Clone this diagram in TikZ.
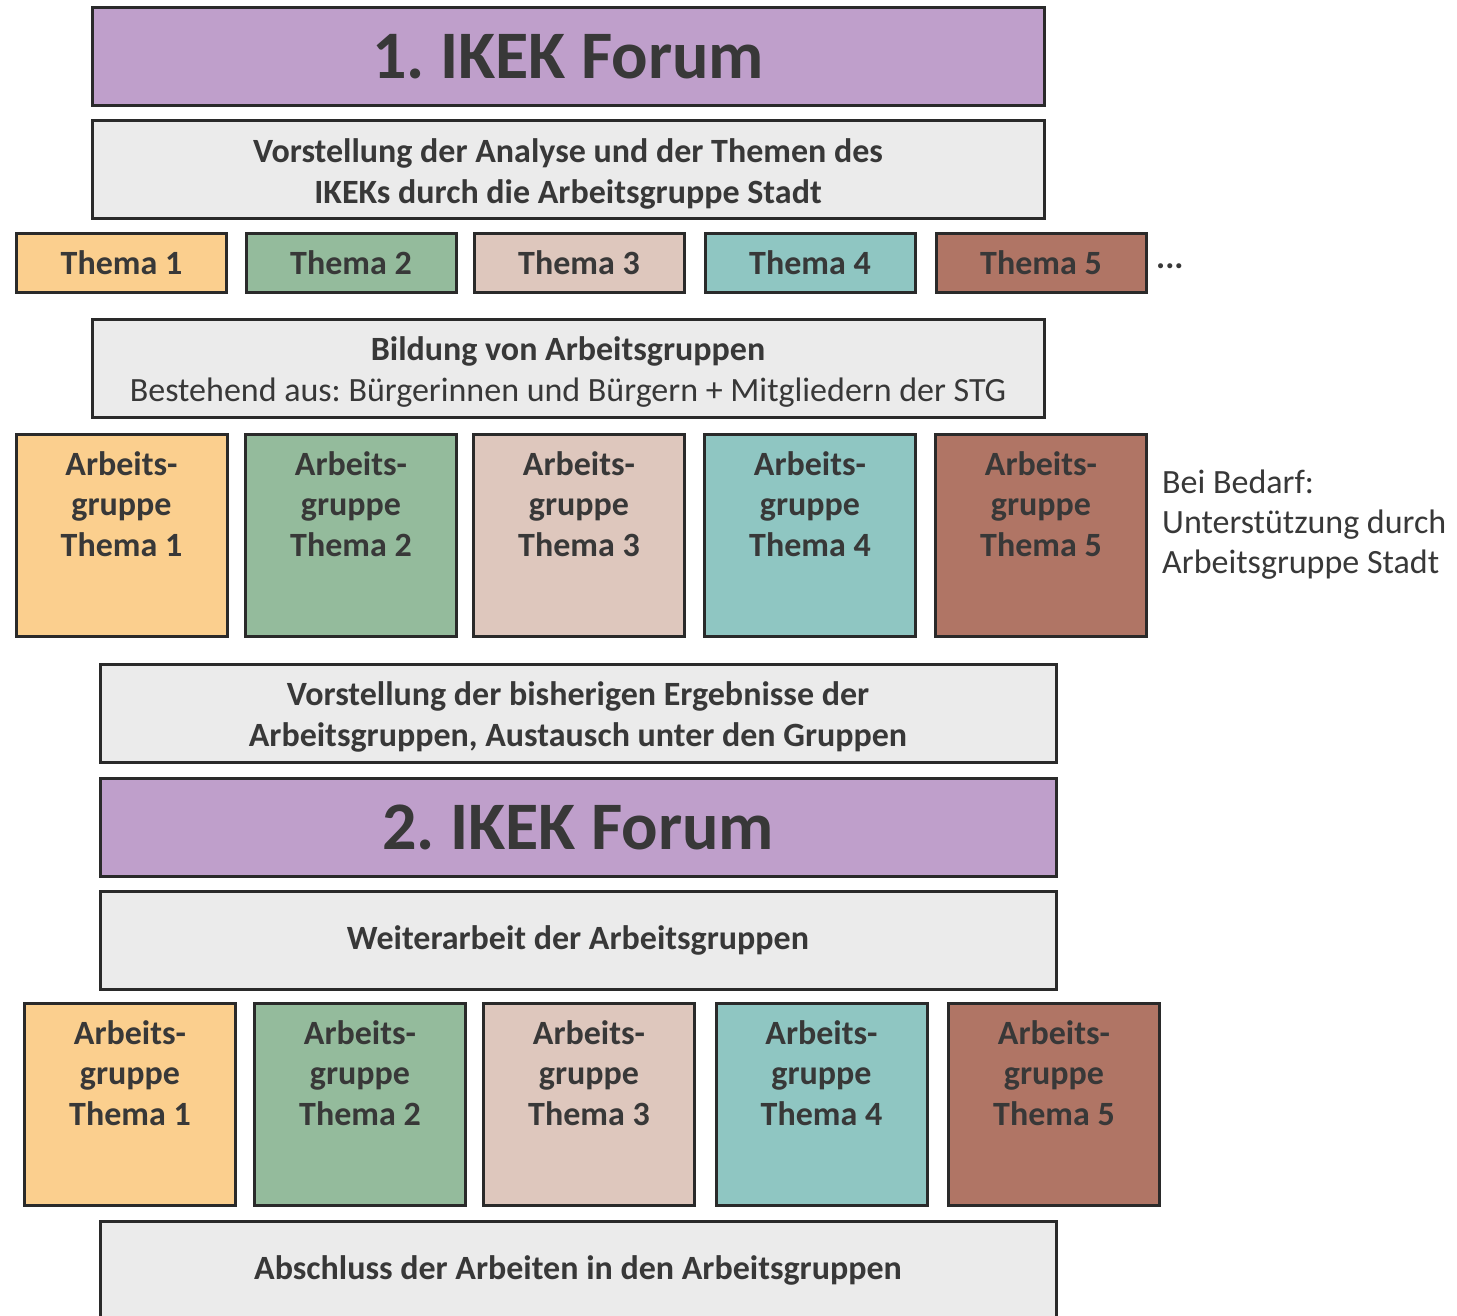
\documentclass[tikz,border=0pt]{standalone}
\usepackage{fontspec}
\setmainfont{Carlito}
\definecolor{purp}{HTML}{BF9FCB}
\definecolor{greyf}{HTML}{EBEBEB}
\definecolor{orng}{HTML}{FBCF8E}
\definecolor{grn}{HTML}{94BB9C}
\definecolor{pnk}{HTML}{DEC7BD}
\definecolor{teal2}{HTML}{8FC6C2}
\definecolor{brwn}{HTML}{B07565}
\definecolor{txt}{HTML}{383838}
\definecolor{edge}{HTML}{2A2A2A}
\tikzset{
  box/.style={draw=edge, line width=3pt, rectangle, inner sep=0pt, text=txt, align=center,
    font=\fontsize{34}{40}\selectfont\bfseries},
  bigtitle/.style={box, fill=purp, minimum width=952pt, minimum height=98pt,
    font=\fontsize{68}{80}\selectfont\bfseries},
  wide/.style={box, fill=greyf, minimum width=952pt, minimum height=98pt},
  wideb/.style={box, fill=greyf, minimum width=956pt, minimum height=98pt},
  thema/.style={box, minimum width=210pt, minimum height=58pt},
  agbox/.style={box, minimum width=211pt, minimum height=202pt},
  agtext/.style={text=txt, align=center, inner sep=0pt, font=\fontsize{34}{40.5}\selectfont\bfseries},
  note/.style={text=txt, align=left, inner sep=0pt, font=\fontsize{34}{40}\selectfont},
}
\frenchspacing
\begin{document}
\begin{tikzpicture}[x=1pt,y=-1pt]
\useasboundingbox (0,0) rectangle (1457,1316);
\fill[white] (0,0) rectangle (1457,1316);
% top section
\node[bigtitle] (f1) at (568,57) {1. IKEK Forum};
\node[wide] (v1) at (568,170) {};
\node[agtext] (v1t) at (568,174) {Vorstellung der Analyse und der Themen des\\IKEKs durch die Arbeitsgruppe Stadt};
\node[thema, fill=orng] (t1) at (121.5,263) {Thema 1};
\node[thema, fill=grn] (t2) at (351,263) {Thema 2};
\node[thema, fill=pnk] (t3) at (579,263) {Thema 3};
\node[thema, fill=teal2] (t4) at (810,263) {Thema 4};
\node[thema, fill=brwn] (t5) at (1041,263) {Thema 5};
\node[text=txt, inner sep=0pt, font=\fontsize{34}{40}\selectfont\bfseries, anchor=west] (dots) at (1156,266) {...};
\node[wide] (bild) at (568,368) {};
\node[agtext] (bildt) at (568,372) {Bildung von Arbeitsgruppen\\\mdseries Bestehend aus: Bürgerinnen und Bürgern + Mitgliedern der STG};
% AG row 1
\node[agbox, fill=orng] (a1) at (121.5,535) {};
\node[agbox, fill=grn] (a2) at (351,535) {};
\node[agbox, fill=pnk] (a3) at (579,535) {};
\node[agbox, fill=teal2] (a4) at (810,535) {};
\node[agbox, fill=brwn] (a5) at (1041,535) {};
\node[agtext] (a1t) at (121.5,504) {Arbeits-\\gruppe\\Thema 1};
\node[agtext] (a2t) at (351,504) {Arbeits-\\gruppe\\Thema 2};
\node[agtext] (a3t) at (579,504) {Arbeits-\\gruppe\\Thema 3};
\node[agtext] (a4t) at (810,504) {Arbeits-\\gruppe\\Thema 4};
\node[agtext] (a5t) at (1041,504) {Arbeits-\\gruppe\\Thema 5};
\node[note, anchor=west] (bedarf) at (1162,525) {Bei Bedarf:\\Unterstützung durch\\Arbeitsgruppe Stadt};
% middle
\node[wideb] (v2) at (578,713) {};
\node[agtext] (v2t) at (578,717) {Vorstellung der bisherigen Ergebnisse der\\Arbeitsgruppen, Austausch unter den Gruppen};
\node[bigtitle, minimum width=956pt] (f2) at (578,827) {2. IKEK Forum};
\node[wideb] (w) at (578,940) {Weiterarbeit der Arbeitsgruppen};
% AG row 2
\node[agbox, fill=orng] (b1) at (130,1104.5) {};
\node[agbox, fill=grn] (b2) at (360,1104.5) {};
\node[agbox, fill=pnk] (b3) at (589,1104.5) {};
\node[agbox, fill=teal2] (b4) at (821.5,1104.5) {};
\node[agbox, fill=brwn] (b5) at (1054,1104.5) {};
\node[agtext] (b1t) at (130,1073) {Arbeits-\\gruppe\\Thema 1};
\node[agtext] (b2t) at (360,1073) {Arbeits-\\gruppe\\Thema 2};
\node[agtext] (b3t) at (589,1073) {Arbeits-\\gruppe\\Thema 3};
\node[agtext] (b4t) at (821.5,1073) {Arbeits-\\gruppe\\Thema 4};
\node[agtext] (b5t) at (1054,1073) {Arbeits-\\gruppe\\Thema 5};
\node[wideb] (ab) at (578,1270) {Abschluss der Arbeiten in den Arbeitsgruppen};
\end{tikzpicture}
\end{document}
